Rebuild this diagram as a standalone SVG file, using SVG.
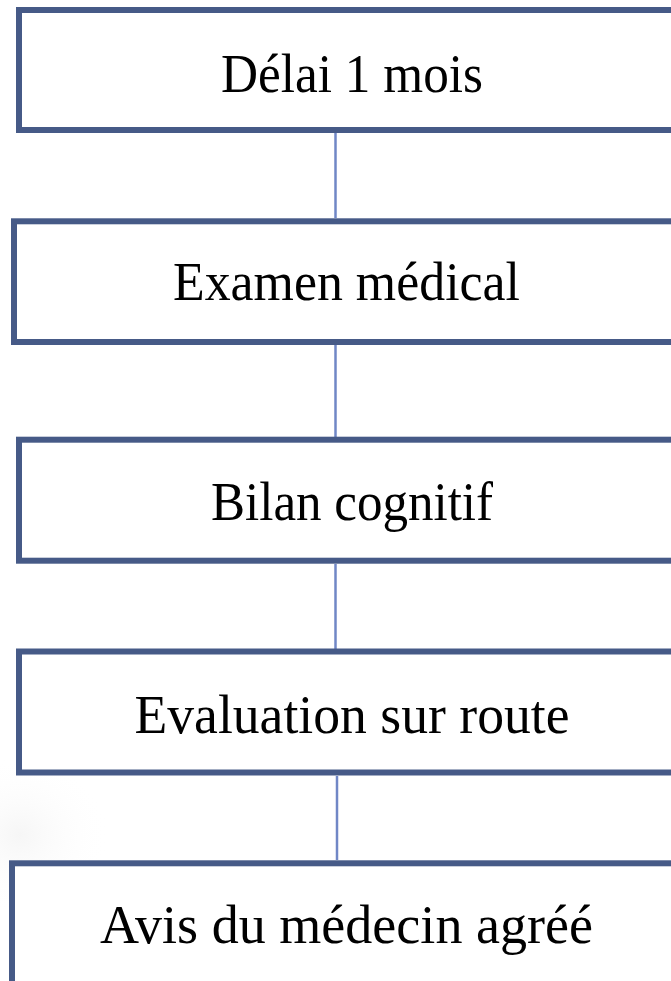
<svg xmlns="http://www.w3.org/2000/svg" width="671" height="981" viewBox="0 0 671 981">
<defs>
<radialGradient id="bg" cx="0.5" cy="0.5" r="0.5">
<stop offset="0" stop-color="#f6f6f6"/>
<stop offset="1" stop-color="#ffffff" stop-opacity="0"/>
</radialGradient>
</defs>
<style>
.box{fill:#ffffff;stroke:#465a87;stroke-width:6}
.lbl{font-family:"Liberation Serif","Times New Roman",serif;font-size:54px;fill:#000000;text-anchor:middle}
.conn{stroke:#7087c6;stroke-width:2.5;fill:none}
</style>
<rect width="671" height="981" fill="#ffffff"/>
<ellipse cx="20" cy="835" rx="90" ry="80" fill="url(#bg)"/>
<g id="connectors">
<line class="conn" x1="335.5" y1="133" x2="335.5" y2="218"/>
<line class="conn" x1="335.5" y1="345" x2="335.5" y2="437"/>
<line class="conn" x1="335.5" y1="564" x2="335.5" y2="649"/>
<line class="conn" x1="337" y1="776" x2="337" y2="860"/>
</g>
<g id="n1">
<rect class="box" x="19" y="10" width="700" height="120"/>
<text class="lbl" x="352" y="92" textLength="262" lengthAdjust="spacingAndGlyphs">Délai 1 mois</text>
</g>
<g id="n2">
<rect class="box" x="14" y="221.3" width="700" height="120.7"/>
<text class="lbl" x="346.5" y="300" textLength="347" lengthAdjust="spacingAndGlyphs">Examen médical</text>
</g>
<g id="n3">
<rect class="box" x="19" y="439.7" width="700" height="121"/>
<text class="lbl" x="352" y="520" textLength="282" lengthAdjust="spacingAndGlyphs">Bilan cognitif</text>
</g>
<g id="n4">
<rect class="box" x="19" y="651.5" width="700" height="121"/>
<text class="lbl" x="352" y="733" textLength="435" lengthAdjust="spacingAndGlyphs">Evaluation sur route</text>
</g>
<g id="n5">
<rect class="box" x="12" y="863.3" width="700" height="160"/>
<text class="lbl" x="346.5" y="943" textLength="493" lengthAdjust="spacingAndGlyphs">Avis du médecin agréé</text>
</g>
</svg>
